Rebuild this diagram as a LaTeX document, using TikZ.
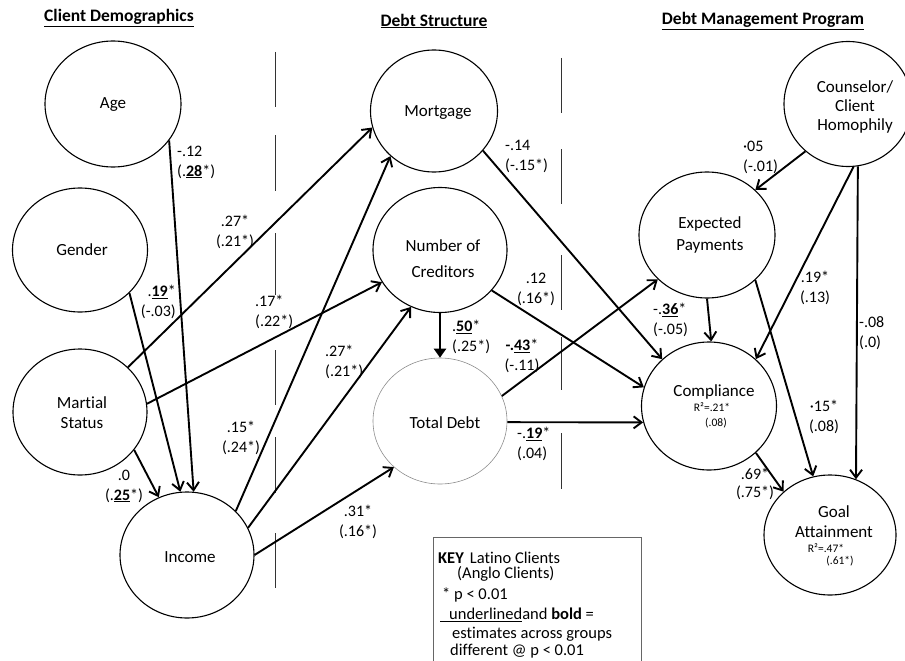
\documentclass[tikz,border=0pt]{standalone}
\usepackage{fontspec}
\setmainfont[Ligatures={NoCommon}]{Carlito}
\usetikzlibrary{shapes.geometric,arrows.meta}
\begin{document}
\begin{tikzpicture}[x=1pt,y=-1pt,
 circ/.style={draw, ellipse, line width=1.1pt, inner sep=0pt},
 txt/.style={font=\fontsize{17}{21}\selectfont, align=center, inner sep=0pt},
 lbl/.style={font=\fontsize{16}{20}\selectfont, inner sep=0pt},
 arr/.style={line width=1.9pt, -{Straight Barb[length=8pt,width=12pt]}},
 sepline/.style={line width=0.9pt, draw=black!80},
 hdr/.style={font=\bfseries\fontsize{17.5}{21}\selectfont, inner sep=0pt},
 keyt/.style={font=\fontsize{16.5}{20}\selectfont, inner sep=0pt, anchor=west},
 small/.style={font=\fontsize{11.5}{14}\selectfont, inner sep=0pt}]

\useasboundingbox (0,0) rectangle (905,661);

% headers
\node[hdr] (h1) at (119,18) {\underline{Client Demographics}};
\node[hdr] (h2) at (434,21) {\underline{Debt Structure}};
\node[hdr] (h3) at (763,21) {\underline{Debt Management Program}};

% separators
\foreach \a/\b in {52/107,135/191,233/295,350/405,437/493,533/588}
  \draw[sepline] (275,\a) -- (275,\b);
\foreach \a/\b in {58/113,149/204,255/310,337/390,433/489}
  \draw[sepline] (561,\a) -- (561,\b);

% circles
\node[circ, minimum width=136pt, minimum height=126pt] (age) at (113,104) {};
\node[txt] (agetx) at (113,105) {Age};
\node[circ, minimum width=135pt, minimum height=124pt] (gen) at (80,250) {};
\node[txt] (gentx) at (82,250) {Gender};
\node[circ, minimum width=134pt, minimum height=126pt] (mar) at (80,412) {};
\node[txt, font=\fontsize{17}{20}\selectfont] (martx) at (82,413) {Martial\\Status};
\node[circ, minimum width=134pt, minimum height=126pt] (inc) at (187,555) {};
\node[txt] (inctx) at (190,557) {Income};
\node[circ, minimum width=127pt, minimum height=122pt] (mort) at (434,111) {};
\node[txt] (morttx) at (438,113) {Mortgage};
\node[circ, minimum width=134pt, minimum height=125pt] (noc) at (440,250) {};
\node[txt, font=\fontsize{17}{26}\selectfont] (noctx) at (443,259) {Number of\\Creditors};
\node[draw=black!45, ellipse, line width=0.6pt, inner sep=0pt, minimum width=134pt, minimum height=126pt] (td) at (440,421) {};
\node[txt] (tdtx) at (445,423) {Total Debt};
\node[circ, minimum width=128pt, minimum height=125pt] (cou) at (848,104) {};
\node[txt, font=\fontsize{17}{19}\selectfont] (coutx) at (855,107) {Counselor/\\Client\\Homophily};
\node[circ, minimum width=136pt, minimum height=126pt] (ep) at (707,235) {};
\node[txt, font=\fontsize{17}{22}\selectfont] (eptx) at (710,235) {Expected\\Payments};
\node[circ, minimum width=135pt, minimum height=128pt] (comp) at (709,406) {};
\node[txt] (comptx) at (714,392) {Compliance};
\node[small] (compr) at (712,407) {R²=.21*};
\node[small] (compr2) at (716,423) {(.08)};
\node[circ, minimum width=132pt, minimum height=120pt] (goal) at (830,535) {};
\node[txt, font=\fontsize{17}{20}\selectfont] (goaltx) at (834,522) {Goal\\Attainment};
\node[small] (goalr) at (826,548) {R²=.47*};
\node[small] (goalr2) at (840,561) {(.61*)};

% arrows
\draw[arr] (age.-33) -- (inc.84);
\draw[arr] (gen.-41.8) -- (inc.96);
\draw[arr] (mar.43.8) -- (mort.195.6);
\draw[arr] (mar.7.7) -- (noc.209);
\draw[arr] (mar.-35.6) -- (inc.116.6);
\draw[arr] (inc.42.6) -- (mort.226);
\draw[arr] (inc.24.3) -- (noc.243.8);
\draw[arr] (inc.0) -- (td.225);
\draw[line width=2.6pt, -{Triangle[length=9pt,width=12pt]}] (noc.south) -- (td.north);
\draw[arr] (noc.-38.3) -- (comp.164.3);
\draw[arr] (mort.-39.8) -- (comp.135.6);
\draw[arr] (td.22.4) -- (ep.222.6);
\draw[arr] (td.-1.7) -- (comp.194.7);
\draw[arr] (ep.south) -- (comp.88);
\draw[arr] (ep.-43.8) -- (goal.106);
\draw[arr] (cou.228.3) -- (ep.43.2);
\draw[arr] (cou.275.4) -- (comp.45);
\draw[arr] (cou.279.2) -- (goal.65.8);
\draw[arr] (comp.-45) -- (goal.137.5);

% labels
\node[lbl, anchor=west, align=left] (l1) at (177,162) {-.12\\(.\underline{\textbf{28}}*)};
\node[lbl, anchor=east, align=right] (l2) at (176,302) {.\underline{\textbf{19}}*\\(-.03)};
\node[lbl, align=center] (l3) at (235,232) {.27*\\(.21*)};
\node[lbl, anchor=west, align=left] (l4) at (255,312) {.17*\\(.22*)};
\node[lbl, align=center] (l5) at (124,486) {.0\\(.\underline{\textbf{25}}*)};
\node[lbl, align=center] (l6) at (241,438) {.15*\\(.24*)};
\node[lbl, anchor=west, align=left] (l7) at (325,362) {.27*\\(.21*)};
\node[lbl, align=center] (l8) at (358,522) {.31*\\(.16*)};
\node[lbl, anchor=west, align=left] (l9) at (452,337) {.\underline{\textbf{50}}*\\(.25*)};
\node[lbl, align=center] (l10) at (536,289) {.12\\(.16*)};
\node[lbl, anchor=west, align=left] (l11) at (505,156) {-.14\\(-.15*)};
\node[lbl, align=center] (l12) at (522,356) {\textbf{-.}\underline{\textbf{43}}*\\(-.11)};
\node[lbl, anchor=west, align=left] (l13) at (517,444) {-.\underline{\textbf{19}}*\\(.04)};
\node[lbl, anchor=west, align=left] (l14) at (653,320) {-.\underline{\textbf{36}}*\\(-.05)};
\node[lbl, align=center] (l15) at (824,417) {·15*\\(.08)};
\node[lbl, anchor=west, align=left] (l16) at (743,157) {·05\\(-.01)};
\node[lbl, align=center] (l17) at (815,288) {.19*\\(.13)};
\node[lbl, anchor=west, align=left] (l18) at (859,333) {-.08\\(.0)};
\node[lbl, align=center, font=\fontsize{16}{18}\selectfont] (l19) at (755,484) {.69*\\(.75*)};

% key
\node[draw=black!60, line width=0.8pt, anchor=north west, minimum width=208pt, minimum height=124pt, inner sep=0pt] (key) at (433,537) {};
\node[keyt] (k1) at (438,558) {\textbf{KEY}\hspace{6pt}Latino Clients};
\node[keyt] (k2) at (457,574) {(Anglo Clients)};
\node[keyt] (k3) at (442,595) {* p < 0.01};
\node[keyt] (k4) at (440,615) {\underline{\hspace{9pt}underlined}and \textbf{bold} =};
\node[keyt] (k5) at (452,634) {estimates across groups};
\node[keyt] (k6) at (450,651) {different @ p < 0.01};
\end{tikzpicture}
\end{document}
